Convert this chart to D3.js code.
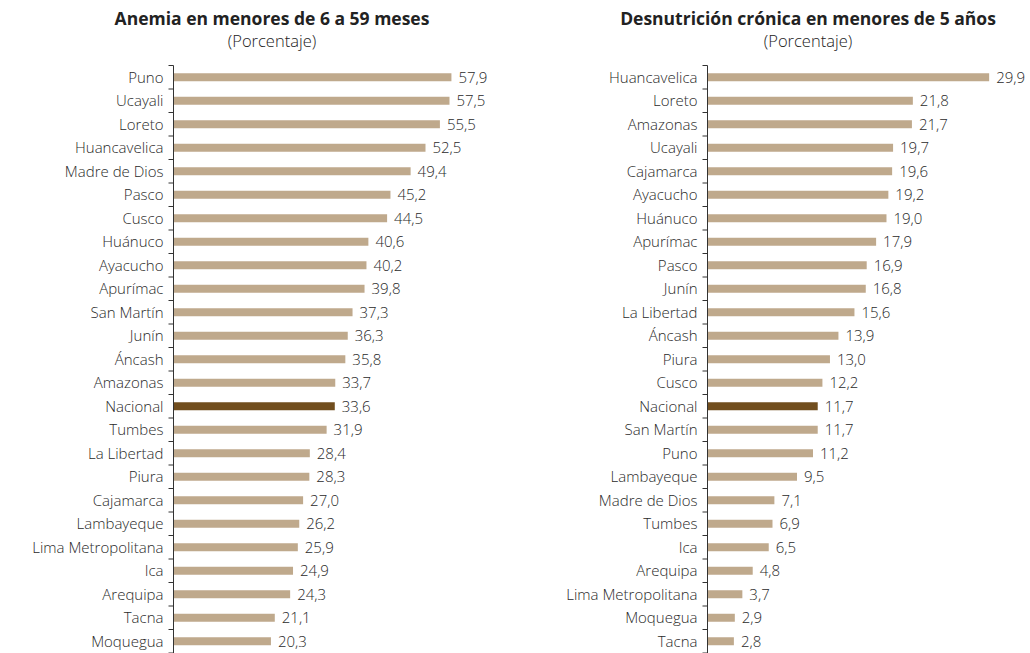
<!DOCTYPE html>
<html>
<head>
<meta charset="utf-8">
<script src="https://cdn.jsdelivr.net/npm/d3@7"></script>
<style>
  html, body { margin: 0; padding: 0; background: #fff; }
  svg { display: block; font-family: "Open Sans", "Noto Sans", sans-serif; }
</style>
</head>
<body>
<svg id="chart" width="1030" height="653"></svg>
<script>
// Anemia (6 a 59 meses), por departamento
const anemiaRegions = ["Puno","Ucayali","Loreto","Huancavelica","Madre de Dios","Pasco","Cusco","Huánuco","Ayacucho","Apurímac","San Martín","Junín","Áncash","Amazonas","Nacional","Tumbes","La Libertad","Piura","Cajamarca","Lambayeque","Lima Metropolitana","Ica","Arequipa","Tacna","Moquegua"];
const anemiaValues = [57.9,57.5,55.5,52.5,49.4,45.2,44.5,40.6,40.2,39.8,37.3,36.3,35.8,33.7,33.6,31.9,28.4,28.3,27.0,26.2,25.9,24.9,24.3,21.1,20.3];

// Desnutrición crónica (menores de 5 años), por departamento
const dcRegions = ["Huancavelica","Loreto","Amazonas","Ucayali","Cajamarca","Ayacucho","Huánuco","Apurímac","Pasco","Junín","La Libertad","Áncash","Piura","Cusco","Nacional","San Martín","Puno","Lambayeque","Madre de Dios","Tumbes","Ica","Arequipa","Lima Metropolitana","Moquegua","Tacna"];
const dcValues = [29.9,21.8,21.7,19.7,19.6,19.2,19.0,17.9,16.9,16.8,15.6,13.9,13.0,12.2,11.7,11.7,11.2,9.5,7.1,6.9,6.5,4.8,3.7,2.9,2.8];

const svg = d3.select("#chart");
const fmt = v => d3.format(".1f")(v).replace(".", ",");

function panel(opts) {
  const { regions, values, axisX, pxPerUnit, title, titleX } = opts;
  const g = svg.append("g");

  g.append("text")
    .attr("x", titleX).attr("y", 25)
    .attr("text-anchor", "middle")
    .attr("font-weight", "bold")
    .attr("font-size", 17.5)
    .attr("fill", "#222")
    .text(title);
  g.append("text")
    .attr("x", titleX).attr("y", 47)
    .attr("text-anchor", "middle")
    .attr("font-size", 16.5)
    .attr("font-weight", 300)
    .attr("fill", "#222")
    .text("(Porcentaje)");

  const y = d3.scaleBand().domain(regions).range([65.5, 653]).paddingInner(0.66).paddingOuter(0.33);
  const maxV = d3.max(values);
  const x = d3.scaleLinear().domain([0, maxV]).range([axisX, axisX + maxV * pxPerUnit]);

  const data = regions.map((r, i) => ({ r, v: values[i] }));

  g.selectAll("rect.bar").data(data).join("rect")
    .attr("class", "bar")
    .attr("x", x(0))
    .attr("y", d => y(d.r))
    .attr("width", d => x(d.v) - x(0))
    .attr("height", y.bandwidth())
    .attr("fill", d => d.r === "Nacional" ? "#714e1e" : "#bfa98c");

  g.selectAll("text.val").data(data).join("text")
    .attr("class", "val")
    .attr("x", d => x(d.v) + 7)
    .attr("y", d => y(d.r) + y.bandwidth() / 2)
    .attr("dy", "0.36em")
    .attr("font-size", 15)
    .attr("font-weight", 300)
    .attr("fill", "#2a2a2a")
    .text(d => fmt(d.v));

  // category axis: tick marks sit on band boundaries
  const step = y.step();
  const r0 = y.range()[0];
  const axis = g.append("g");
  axis.append("line")
    .attr("x1", axisX).attr("x2", axisX)
    .attr("y1", r0).attr("y2", r0 + step * regions.length)
    .attr("stroke", "#333").attr("stroke-width", 1);
  axis.selectAll("line.tick").data(d3.range(regions.length + 1)).join("line")
    .attr("class", "tick")
    .attr("x1", axisX - 5).attr("x2", axisX)
    .attr("y1", i => r0 + i * step).attr("y2", i => r0 + i * step)
    .attr("stroke", "#333").attr("stroke-width", 1);
  axis.selectAll("text").data(regions).join("text")
    .attr("x", axisX - 10)
    .attr("y", d => y(d) + y.bandwidth() / 2)
    .attr("dy", "0.36em")
    .attr("text-anchor", "end")
    .attr("font-size", 15)
    .attr("font-weight", 300)
    .attr("fill", "#2a2a2a")
    .text(d => d);
}

panel({ regions: anemiaRegions, values: anemiaValues, axisX: 173.5, pxPerUnit: 4.8,
        title: "Anemia en menores de 6 a 59 meses", titleX: 272 });
panel({ regions: dcRegions, values: dcValues, axisX: 707.5, pxPerUnit: 9.42,
        title: "Desnutrición crónica en menores de 5 años", titleX: 808 });
</script>
</body>
</html>
